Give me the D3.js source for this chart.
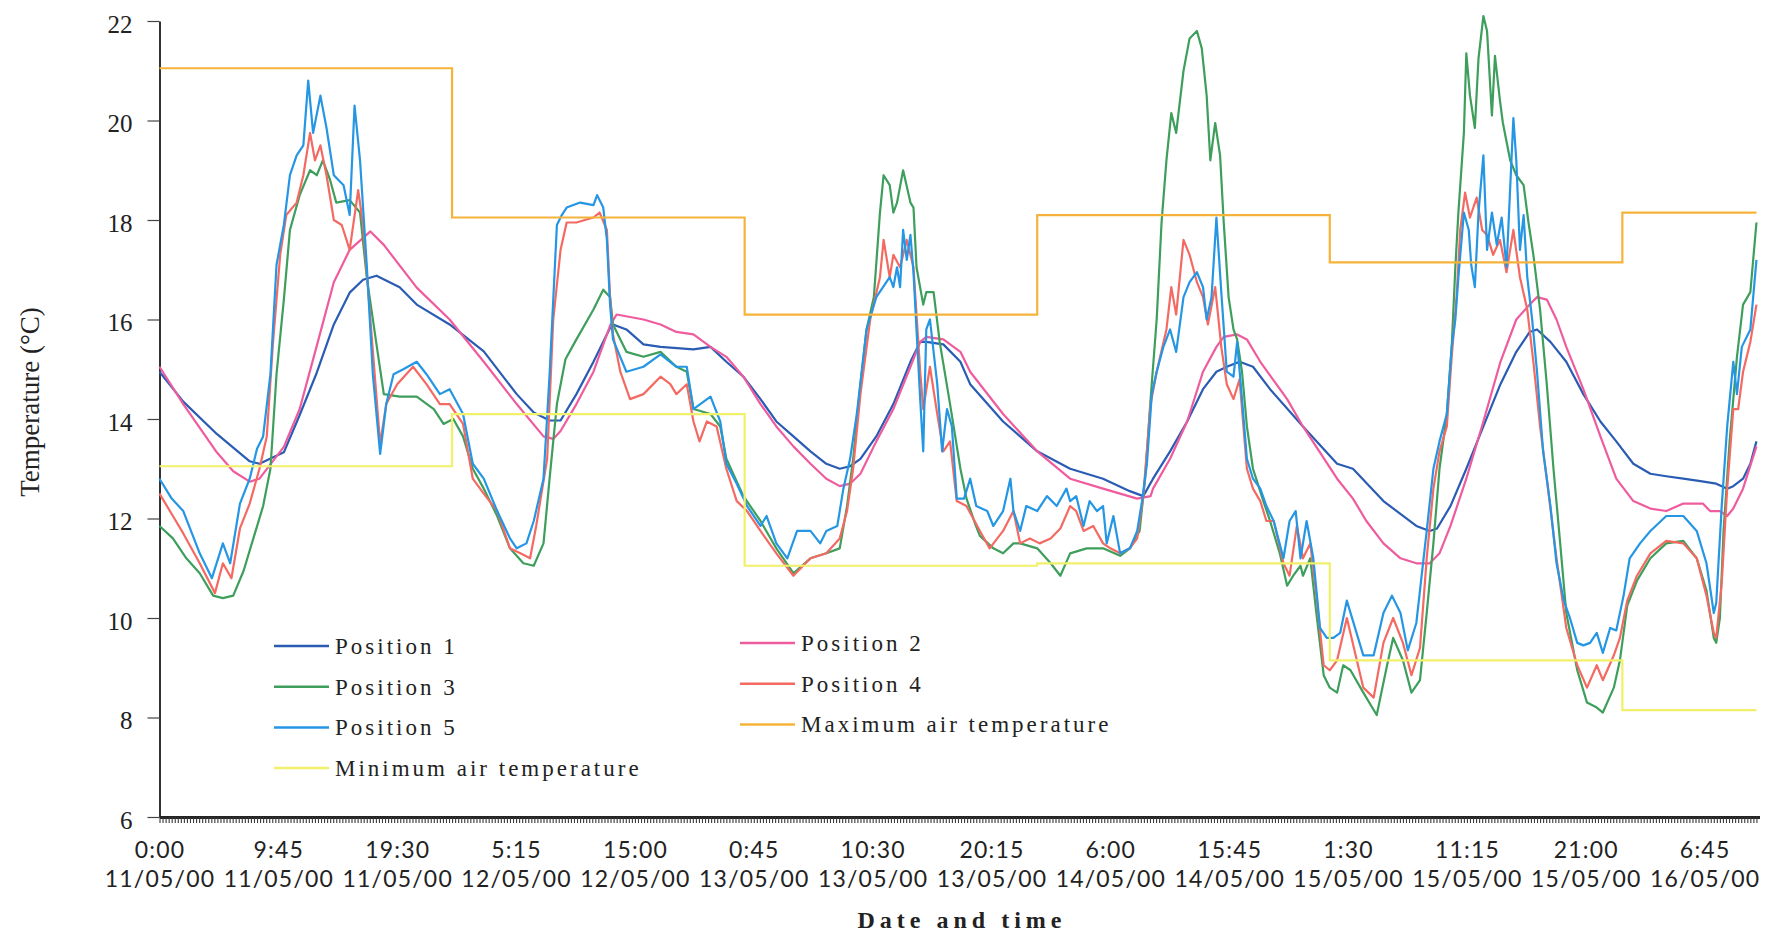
<!DOCTYPE html>
<html>
<head>
<meta charset="utf-8">
<script src="https://cdn.jsdelivr.net/npm/d3@7"></script>
<style>
  body { margin: 0; background: #fff; }
  svg { display: block; }
</style>
</head>
<body>
<div id="chart"></div>
<script>
// x axis labels, one every 9h45 from 0:00 11/05/00
const tickTimes = ["0:00","9:45","19:30","5:15","15:00","0:45","10:30","20:15","6:00","15:45","1:30","11:15","21:00","6:45"];
const tickDates = ["11/05/00","11/05/00","11/05/00","12/05/00","12/05/00","13/05/00","13/05/00","13/05/00","14/05/00","14/05/00","15/05/00","15/05/00","15/05/00","16/05/00"];

// daily air temperature (hours since 0:00 11/05/00)
const dayStarts = [0, 24, 48, 72, 96, 120];
const maxAir = [21.05, 18.05, 16.1, 18.1, 17.15, 18.15];
const minAir = [13.05, 14.1, 11.05, 11.1, 9.15, 8.15];
const lastHour = 131;

// [hours, °C]
const pos1 = [[0,14.95],[1.95,14.35],[4.7,13.7],[7.4,13.15],[8.2,13.1],[10.2,13.33],[11.5,14.08],[12.9,14.93],[14.3,15.9],[15.6,16.54],[16.7,16.8],[17.8,16.88],[19.7,16.65],[21.1,16.3],[23.8,15.9],[26.6,15.36],[29.3,14.5],[30.7,14.13],[32.0,13.97],
  [32.9,13.97],[34.2,14.5],[35.6,15.15],[37.0,15.85],[37.2,15.9],[38.3,15.8],[39.7,15.5],[41.1,15.45],[43.8,15.4],[45.2,15.45],[46.5,15.15],[47.9,14.85],[49.3,14.4],[50.6,13.95],[52.0,13.65],[53.4,13.35],[54.7,13.1],[55.8,13.0],[56.65,13.05],[57.5,13.2],[58.8,13.65],[60.2,14.3],[61.6,15.15],[62.4,15.55],[62.9,15.55],[64.3,15.5],[65.7,15.15],
  [66.5,14.7],[69.2,13.95],[72.0,13.35],[74.7,13.0],[77.4,12.8],[79.6,12.55],[80.7,12.45],[81.5,12.8],[82.9,13.35],[84.3,13.95],[85.6,14.6],[86.7,14.95],[87.55,15.05],[88.6,15.15],[89.7,15.05],[91.1,14.6],[93.8,13.85],[96.6,13.1],
  [97.9,13.0],[100.4,12.35],[103.1,11.85],[104.2,11.75],[104.8,11.8],[105.9,12.25],[107.2,13.0],[108.6,13.85],[110.0,14.7],[111.3,15.35],[112.4,15.75],[113.0,15.8],[114.1,15.55],[115.4,15.15],[116.8,14.5],[118.2,13.95],[119.5,13.55],[120.9,13.1],[122.3,12.9],[123.6,12.85],[125.0,12.8],[126.4,12.75],[127.7,12.7],[128.6,12.6],[129.1,12.65],[129.9,12.8],[130.5,13.1],[131.0,13.55]];

const pos2 = [[0,15.05],[1.95,14.3],[4.7,13.33],[6.05,12.95],[7.4,12.74],[8.2,12.8],[10.2,13.44],[11.5,14.2],[12.9,15.47],[14.3,16.75],[15.6,17.4],[17.3,17.77],[18.4,17.5],[21.1,16.64],[23.8,16.0],[26.6,15.15],[29.3,14.3],[31.5,13.65],[32.3,13.6],
  [32.9,13.76],[34.2,14.3],[35.6,14.95],[37.0,15.9],[37.5,16.1],[39.7,16.0],[41.1,15.9],[42.4,15.75],[43.8,15.7],[45.2,15.45],[46.5,15.25],[47.9,14.85],[49.3,14.3],[50.6,13.85],[52.0,13.45],[53.4,13.1],[54.7,12.8],[55.8,12.65],[56.65,12.7],[57.5,12.9],[58.8,13.55],[60.2,14.2],[61.6,15.05],[62.4,15.55],[62.9,15.65],[64.3,15.6],[65.7,15.35],
  [66.5,14.95],[69.2,14.1],[72.0,13.35],[74.7,12.8],[77.4,12.6],[80.2,12.4],[81.3,12.45],[81.5,12.6],[82.9,13.2],[84.3,13.95],[85.6,14.95],[86.7,15.45],[87.3,15.65],[88.4,15.7],[89.2,15.6],[90.3,15.15],[92.5,14.4],[93.8,13.85],[96.6,12.8],
  [97.9,12.4],[99.0,11.95],[100.4,11.5],[101.8,11.2],[103.1,11.1],[104.2,11.1],[105.0,11.3],[105.9,11.85],[107.2,12.8],[108.6,13.95],[110.0,15.15],[111.3,16.0],[112.4,16.3],[113.0,16.45],[113.8,16.4],[114.6,16.0],[115.4,15.45],[116.8,14.6],[118.2,13.65],[119.5,12.8],[120.9,12.35],[122.3,12.2],[123.6,12.15],[125.0,12.3],[126.6,12.3],[127.2,12.15],[128.0,12.15],[128.6,12.05],[129.1,12.2],[129.9,12.6],[131.0,13.45]];

const pos3 = [[0,11.85],[1.1,11.6],[2.2,11.2],[3.3,10.9],[4.4,10.45],[5.2,10.4],[6.05,10.45],[6.9,10.95],[7.7,11.6],[8.5,12.25],[9.1,13.0],[9.6,14.9],[10.2,16.4],[10.7,17.8],[11.5,18.5],[12.35,19.0],[12.9,18.9],[13.4,19.2],[14.0,18.8],[14.5,18.35],[15.6,18.4],[16.45,18.15],[17.0,16.85],[17.8,15.5],[18.4,14.5],[19.7,14.45],[21.1,14.45],[22.5,14.2],[23.3,13.9],[24.1,14.0],[24.9,13.65],[25.7,13.0],[26.6,12.6],[27.7,12.05],[28.75,11.4],[29.85,11.1],[30.7,11.05],[31.5,11.5],[32.0,12.8],[32.6,14.3],[33.3,15.2],
  [34.2,15.6],[35.6,16.2],[36.4,16.6],[36.96,16.45],[37.2,15.9],[38.3,15.35],[39.7,15.25],[41.1,15.35],[42.4,15.05],[43.25,14.95],[43.8,14.2],[45.2,14.1],[46.0,13.85],[46.5,13.2],[47.9,12.45],[49.3,11.95],[50.6,11.4],[52.0,10.9],[53.4,11.2],[54.7,11.3],[55.8,11.4],[56.4,12.25],[56.9,13.2],[57.5,14.7],[58.0,15.8],[58.6,16.45],[59.1,18.15],[59.4,18.9],[59.9,18.7],[60.2,18.15],[60.5,18.35],[61.0,19.0],[61.6,18.35],[61.85,18.25],[62.1,17.05],[62.65,16.3],[62.9,16.55],[63.5,16.55],[64.0,15.55],[64.85,14.3],[65.7,13.0],[66.2,12.4],[66.9,11.9],
  [67.3,11.65],[68.4,11.4],[69.2,11.3],[70.05,11.5],[70.6,11.5],[72.0,11.4],[73.1,11.1],[73.9,10.85],[74.7,11.3],[76.06,11.4],[77.4,11.4],[78.8,11.25],[79.6,11.4],[80.4,11.75],[80.85,12.8],[81.3,14.4],[81.8,16.0],[82.2,17.95],[82.6,19.2],[83.0,20.15],[83.4,19.75],[84.0,21.0],[84.5,21.65],[85.1,21.8],[85.5,21.45],[85.9,20.5],[86.2,19.2],[86.6,19.95],[87.0,19.3],[87.3,17.95],[87.7,16.45],[88.1,15.8],[88.4,15.6],[88.8,14.95],[89.2,13.85],[89.7,13.0],[90.55,12.35],[91.1,11.95],[91.9,11.3],[92.5,10.65],[93.0,10.85],[93.6,11.05],[93.8,10.85],[94.4,11.2],[94.9,10.1],[95.5,8.85],[96.0,8.6],[96.6,8.5],[97.1,9.05],[97.7,8.95],
  [98.75,8.5],[99.85,8.05],[100.7,9.05],[101.2,9.6],[102.0,9.15],[102.7,8.5],[103.4,8.75],[103.95,10.1],[104.5,11.5],[105.0,13.0],[105.6,14.1],[106.0,15.45],[106.3,17.05],[106.55,18.15],[107.0,19.75],[107.2,21.35],[107.5,20.5],[107.9,19.85],[108.2,21.25],[108.6,22.1],[108.9,21.8],[109.3,20.1],[109.55,21.3],[109.96,20.4],[110.2,19.95],[110.8,19.2],[111.3,18.9],[111.9,18.7],[112.3,17.95],[112.7,17.3],[113.25,16.2],[113.8,14.7],[114.35,13.0],[114.9,11.5],[115.4,10.1],[116.3,8.95],[117.1,8.3],[117.9,8.2],[118.4,8.1],[119.3,8.6],[119.8,9.15],[120.4,10.25],[121.2,10.75],[122.3,11.2],[123.6,11.5],[125.0,11.55],[126.1,11.2],[126.9,10.55],[127.5,9.6],[127.7,9.5],[128.0,10.0],[128.3,11.75],[128.8,13.55],[129.4,15.25],[129.9,16.3],[130.5,16.55],[131.0,17.95]];

const pos4 = [[0,12.5],[1.1,12.05],[1.95,11.7],[3.3,11.1],[4.55,10.5],[5.2,11.1],[5.9,10.8],[6.6,11.8],[7.4,12.3],[8.2,13.0],[8.8,13.65],[9.3,15.5],[9.9,17.3],[10.4,18.1],[11.25,18.35],[11.8,18.9],[12.35,19.75],[12.75,19.2],[13.2,19.5],[13.7,18.9],[14.3,18.0],[14.95,17.9],[15.6,17.4],[16.3,18.6],[16.7,17.9],[17.3,16.0],[18.1,13.5],[18.6,14.3],[19.5,14.7],[20.8,15.05],[21.9,14.7],[23.0,14.3],[23.8,14.3],[24.9,13.9],[25.7,12.8],[26.6,12.5],[27.7,12.15],[28.75,11.4],[29.6,11.3],[30.4,11.2],[30.9,11.85],[31.8,13.2],[32.3,16.0],[32.9,17.4],
  [33.4,17.95],[34.2,17.95],[35.6,18.05],[36.1,18.15],[36.7,17.8],[36.96,16.45],[37.2,15.7],[37.8,14.95],[38.6,14.4],[39.7,14.5],[41.1,14.85],[41.9,14.7],[42.4,14.5],[43.25,14.7],[43.8,13.95],[44.3,13.55],[44.9,13.95],[45.7,13.85],[46.5,13.0],[47.35,12.35],[48.2,12.15],[49.3,11.75],[50.6,11.3],[52.0,10.85],[53.4,11.2],[54.7,11.3],[55.8,11.6],[56.4,12.15],[56.9,13.0],[57.5,14.5],[58.3,16.0],[59.1,16.85],[59.4,17.6],[59.9,16.85],[60.2,17.3],[60.75,17.05],[61.3,17.6],[61.85,17.05],[62.4,14.95],[62.65,14.2],[63.2,15.05],[63.8,14.1],[64.3,13.35],[64.85,13.55],[65.4,12.35],[66.2,12.25],
  [67.3,11.75],[68.1,11.4],[69.2,11.75],[70.05,12.15],[70.6,11.5],[71.4,11.6],[72.2,11.5],[73.1,11.6],[73.9,11.8],[74.7,12.25],[75.2,12.15],[75.8,11.75],[76.6,11.85],[77.4,11.5],[78.0,11.4],[78.8,11.3],[79.6,11.4],[80.2,11.6],[80.7,12.45],[81.3,14.3],[81.8,14.95],[82.6,15.8],[83.0,16.65],[83.4,16.1],[84.0,17.6],[84.5,17.3],[85.1,16.75],[85.6,16.45],[86.0,15.9],[86.6,16.65],[87.1,15.45],[87.55,14.7],[88.1,14.4],[88.6,14.8],[89.2,13.0],[89.7,12.6],[90.3,12.35],[90.8,11.95],[91.4,11.95],[92.2,11.1],[92.7,10.85],[93.3,11.85],[93.8,11.2],[94.4,11.5],[94.9,10.45],[95.5,9.05],[96.0,8.95],[96.6,9.15],[97.4,10.0],
  [98.75,8.6],[99.6,8.4],[100.4,9.5],[101.2,10.0],[102.0,9.5],[102.7,8.85],[103.4,9.4],[103.95,11.2],[104.5,12.6],[105.0,13.35],[105.6,13.85],[106.0,15.25],[106.4,16.45],[106.7,17.8],[107.1,18.55],[107.5,18.05],[108.05,18.45],[108.5,17.8],[108.9,17.7],[109.4,17.3],[109.96,17.6],[110.5,16.95],[111.06,17.8],[111.6,16.85],[112.2,16.2],[112.7,15.15],[113.25,13.85],[113.8,12.8],[114.6,11.2],[115.4,9.8],[116.3,9.05],[117.1,8.6],[117.9,9.05],[118.4,8.75],[119.3,9.25],[119.8,9.6],[120.4,10.35],[121.2,10.85],[122.3,11.3],[123.6,11.55],[125.0,11.5],[126.1,11.2],[126.9,10.45],[127.5,9.7],[127.7,9.6],[128.15,10.7],[128.6,12.6],[129.1,14.2],[129.5,14.2],[129.9,14.95],[130.5,15.55],[131.0,16.3]];

const pos5 = [[0,12.8],[1.0,12.4],[1.95,12.15],[3.3,11.3],[4.3,10.8],[5.2,11.5],[5.8,11.1],[6.6,12.3],[7.4,12.8],[8.0,13.4],[8.5,13.65],[9.1,14.9],[9.6,17.1],[10.2,17.9],[10.7,18.9],[11.25,19.3],[11.8,19.5],[12.2,20.8],[12.6,19.75],[13.2,20.5],[13.7,19.85],[14.3,18.9],[15.1,18.7],[15.6,18.1],[16.0,20.3],[16.45,19.2],[17.0,17.1],[17.5,14.9],[18.1,13.3],[18.6,14.3],[19.2,14.9],[20.0,15.0],[21.1,15.15],[21.9,14.9],[23.0,14.5],[23.8,14.6],[24.9,14.1],[25.7,13.1],[26.6,12.8],[27.7,12.15],[28.75,11.6],[29.3,11.4],[30.1,11.5],[30.7,11.95],[31.5,12.8],[32.0,14.9],[32.6,17.9],[33.0,18.1],
  [33.4,18.25],[34.5,18.35],[35.6,18.3],[35.9,18.5],[36.4,18.25],[36.7,17.6],[36.96,16.3],[37.2,15.6],[38.3,14.95],[39.7,15.05],[41.1,15.3],[42.4,15.05],[43.25,15.05],[43.8,14.2],[45.2,14.45],[46.0,13.95],[46.5,13.1],[47.35,12.7],[48.2,12.25],[49.3,11.85],[49.8,12.05],[50.6,11.5],[51.5,11.2],[52.3,11.75],[53.4,11.75],[54.2,11.5],[54.7,11.75],[55.6,11.85],[56.1,12.6],[56.65,13.2],[57.2,14.1],[58.0,15.8],[58.8,16.45],[59.9,16.85],[60.2,16.65],[60.5,17.05],[60.75,16.65],[61.0,17.8],[61.3,17.2],[61.6,17.7],[61.85,16.95],[62.4,14.4],[62.65,13.35],[62.9,15.8],[63.2,16.0],[63.8,14.7],[64.2,13.35],[64.6,14.2],[65.0,13.85],[65.4,12.4],[66.0,12.4],
  [66.5,12.8],[67.0,12.25],[67.9,12.15],[68.4,11.85],[69.2,12.15],[69.8,12.8],[70.05,12.15],[70.6,11.75],[71.1,12.25],[72.0,12.15],[72.8,12.45],[73.6,12.25],[74.4,12.6],[74.7,12.35],[75.2,12.45],[75.8,11.85],[76.3,12.35],[76.9,12.15],[77.4,12.25],[77.7,11.5],[78.25,12.05],[78.8,11.3],[79.6,11.4],[80.2,11.75],[80.6,12.35],[81.0,13.1],[81.4,14.5],[81.8,14.95],[82.35,15.45],[82.9,15.8],[83.4,15.35],[84.0,16.45],[84.5,16.75],[85.1,16.95],[85.6,16.65],[85.9,16.0],[86.3,16.45],[86.7,18.05],[87.1,16.55],[87.55,14.95],[88.1,14.85],[88.4,15.55],[88.8,14.4],[89.2,13.2],[89.7,12.8],[90.3,12.6],[90.8,12.25],[91.4,11.95],[92.2,11.2],[92.7,11.95],[93.2,12.15],[93.6,11.2],[94.1,11.95],[94.65,11.2],[95.2,9.8],[95.75,9.6],[96.3,9.6],[96.85,9.7],[97.4,10.35],
  [98.75,9.25],[99.6,9.25],[100.4,10.1],[101.1,10.45],[101.8,10.1],[102.4,9.35],[103.1,9.9],[103.95,11.75],[104.5,13.0],[105.0,13.55],[105.6,14.1],[106.0,15.45],[106.3,16.0],[106.55,16.85],[107.0,18.15],[107.4,17.8],[107.6,17.1],[107.9,16.65],[108.2,18.15],[108.6,19.3],[108.9,17.4],[109.3,18.15],[109.7,17.5],[110.1,18.05],[110.5,17.05],[111.06,20.05],[111.3,19.2],[111.6,17.4],[111.9,18.1],[112.2,16.85],[112.6,16.0],[113.0,14.95],[113.5,13.35],[114.1,12.25],[114.6,11.1],[115.2,10.35],[115.7,10.0],[116.3,9.5],[116.8,9.45],[117.35,9.5],[117.9,9.7],[118.4,9.3],[119.0,9.8],[119.5,9.75],[120.1,10.45],[120.6,11.2],[121.45,11.5],[122.3,11.75],[123.6,12.05],[125.0,12.05],[126.1,11.75],[126.9,11.1],[127.5,10.1],[127.7,10.3],[128.15,12.25],[128.6,13.85],[129.1,15.15],[129.4,14.5],[129.8,15.45],[130.5,15.8],[131.0,17.2]];

// size of the page and the plot area
const width = 1769, height = 934;
const plot = {left: 159.5, right: 1759.5, top: 21, bottom: 817};

const svg = d3.select("#chart")
  .append("svg")
    .attr("width", width)
    .attr("height", height);

const x = d3.scaleLinear()
  .domain([0, 131.25])
  .range([plot.left, plot.right]);

const y = d3.scaleLinear()
  .domain([6, 22])
  .range([plot.bottom, plot.top]);

// y axis
const yAxis = svg.append("g")
    .attr("transform", `translate(${plot.left},0)`)
    .call(d3.axisLeft(y)
      .tickValues(d3.range(6, 23, 2))
      .tickSize(12)
      .tickPadding(15)
      .tickSizeOuter(0));
yAxis.select(".domain").attr("stroke", "#333").attr("stroke-width", 2);
yAxis.selectAll(".tick line").attr("stroke", "#444").attr("stroke-width", 1.2);
yAxis.selectAll(".tick text")
    .attr("dy", "0.45em")
    .attr("fill", "#222")
    .style("font-family", "'Liberation Serif', serif")
    .style("font-size", "25px");

// x axis: dense quarter-hour ticks
const xMinor = svg.append("g")
    .attr("transform", `translate(0,${plot.bottom})`)
    .call(d3.axisBottom(x)
      .tickValues(d3.range(0, 131.01, 0.25))
      .tickSize(6)
      .tickFormat("")
      .tickSizeOuter(0));
xMinor.select(".domain").attr("stroke", "#222").attr("stroke-width", 3);
xMinor.selectAll(".tick line").attr("stroke", "#3a3a3a").attr("stroke-width", 1.1);

// x axis labels, two lines each
const xLabels = svg.append("g")
    .attr("transform", `translate(0,${plot.bottom})`)
    .call(d3.axisBottom(x)
      .tickValues(tickTimes.map((d, i) => i * 9.75))
      .tickSize(0)
      .tickFormat((d, i) => tickTimes[i]));
xLabels.select(".domain").remove();
xLabels.selectAll(".tick text")
    .attr("y", 41)
    .attr("dy", 0)
    .attr("fill", "#222")
    .style("font-family", "Lato, sans-serif")
    .style("font-size", "23px")
    .style("letter-spacing", "1.2px")
    .each(function(d, i) {
      const t = d3.select(this);
      t.text(null);
      t.append("tspan").attr("x", 0).text(tickTimes[i]);
      t.append("tspan").attr("x", 0).attr("dy", 28.5).text(tickDates[i]);
    });

// axis titles
svg.append("text")
    .attr("transform", "translate(33,402) rotate(-90)")
    .attr("text-anchor", "middle")
    .attr("dominant-baseline", "middle")
    .attr("fill", "#222")
    .style("font-family", "'Liberation Serif', serif")
    .style("font-size", "27px")
    .text("Temperature (°C)");

svg.append("text")
    .attr("x", 962)
    .attr("y", 928)
    .attr("text-anchor", "middle")
    .attr("fill", "#222")
    .style("font-family", "'Liberation Serif', serif")
    .style("font-size", "24px")
    .style("font-weight", "bold")
    .style("letter-spacing", "5px")
    .text("Date and time");

// series
const line = d3.line()
    .x(d => x(d[0]))
    .y(d => y(d[1]));

const series = [
  {name: "Position 1", data: pos1, color: "#2a5cb4"},
  {name: "Position 2", data: pos2, color: "#ef5c9e"},
  {name: "Position 3", data: pos3, color: "#3e9e5c"},
  {name: "Position 4", data: pos4, color: "#f46a62"},
  {name: "Position 5", data: pos5, color: "#2596e4"}
];

svg.append("g")
  .selectAll("path")
  .data(series)
  .join("path")
    .attr("fill", "none")
    .attr("stroke", d => d.color)
    .attr("stroke-width", 2.2)
    .attr("stroke-linejoin", "round")
    .attr("d", d => line(d.data));

// daily max / min as steps
const stepLine = d3.line()
    .curve(d3.curveStepAfter)
    .x(d => x(d[0]))
    .y(d => y(d[1]));

const steps = [
  {name: "Maximum air temperature", values: maxAir, color: "#f6b33a"},
  {name: "Minimum air temperature", values: minAir, color: "#f1f06a"}
];

svg.append("g")
  .selectAll("path")
  .data(steps)
  .join("path")
    .attr("fill", "none")
    .attr("stroke", d => d.color)
    .attr("stroke-width", 2.2)
    .attr("d", d => {
      const pts = dayStarts.map((h, i) => [h, d.values[i]]);
      pts.push([lastHour, d.values[d.values.length - 1]]);
      return stepLine(pts);
    });

// legend, two columns
const legendItems = [
  {name: "Position 1", color: "#2a5cb4", col: 0, row: 0},
  {name: "Position 3", color: "#3e9e5c", col: 0, row: 1},
  {name: "Position 5", color: "#2596e4", col: 0, row: 2},
  {name: "Minimum air temperature", color: "#f1f06a", col: 0, row: 3},
  {name: "Position 2", color: "#ef5c9e", col: 1, row: 0},
  {name: "Position 4", color: "#f46a62", col: 1, row: 1},
  {name: "Maximum air temperature", color: "#f6b33a", col: 1, row: 2}
];
const legendCol = [{x: 274, y: 646}, {x: 740, y: 643}];

const legend = svg.append("g")
  .selectAll("g")
  .data(legendItems)
  .join("g")
    .attr("transform", d => `translate(${legendCol[d.col].x},${legendCol[d.col].y + d.row * 40.7})`);

legend.append("line")
    .attr("x1", 0)
    .attr("x2", 55)
    .attr("stroke", d => d.color)
    .attr("stroke-width", 2.5);

legend.append("text")
    .attr("x", 61)
    .attr("dy", "0.35em")
    .attr("fill", "#222")
    .style("font-family", "'Liberation Serif', serif")
    .style("font-size", "23px")
    .style("letter-spacing", "3px")
    .text(d => d.name);
</script>
</body>
</html>
